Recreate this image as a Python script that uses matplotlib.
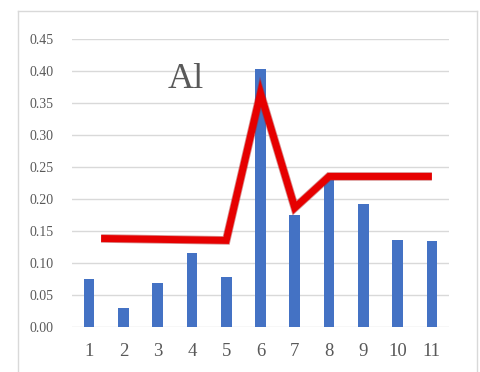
import matplotlib
matplotlib.use("Agg")
import matplotlib.pyplot as plt
import matplotlib.patheffects as pe
from matplotlib.lines import Line2D

# sample positions and measured values
categories = [1, 2, 3, 4, 5, 6, 7, 8, 9, 10, 11]
bar_values = [0.074, 0.029, 0.069, 0.116, 0.077, 0.403, 0.174, 0.230, 0.192, 0.136, 0.134]

# trend line (starts slightly after the first sample)
line_x = [1.35, 5, 6, 7, 8, 11]
line_values = [0.138, 0.135, 0.365, 0.186, 0.235, 0.235]

y_ticks = [0.00, 0.05, 0.10, 0.15, 0.20, 0.25, 0.30, 0.35, 0.40, 0.45]

TEXT = "#595959"
GRID = "#d9d9d9"
SERIF = "Liberation Serif"

fig = plt.figure(figsize=(4.8, 3.72), dpi=100)
fig.patch.set_facecolor("white")
ax = fig.add_axes([72 / 480, 1 - 326.7 / 372, 377 / 480, 287.7 / 372])

ax.bar(categories, bar_values, width=0.31, color="#4472C4", zorder=2)
ax.plot(line_x, line_values, color="#e60000", lw=5.0, solid_joinstyle="miter",
        solid_capstyle="butt", zorder=3,
        path_effects=[pe.Stroke(linewidth=6.2, foreground="#b02020", alpha=0.5),
                      pe.Normal()])

ax.set_xlim(0.5, 11.5)
ax.set_ylim(0, 0.45)
ax.set_yticks(y_ticks)
ax.set_yticklabels([f"{v:.2f}" for v in y_ticks], fontsize=10, color=TEXT, family=SERIF)
ax.set_xticks(categories)
ax.set_xticklabels([str(c) for c in categories], fontsize=13.5, color=TEXT, family=SERIF)
ax.tick_params(length=0)
ax.tick_params(axis="y", pad=13)
ax.tick_params(axis="x", pad=12)
ax.grid(axis="y", color=GRID, lw=1)
ax.set_axisbelow(True)
for s in ax.spines.values():
    s.set_visible(False)

ax.text(3.81, 0.386, "Al", fontsize=26, color=TEXT, family=SERIF, ha="center", va="center")

# chart area frame
for xs, ys in [([18, 18], [11, 380]), ([18, 477], [11, 11]), ([477, 477], [11, 380])]:
    fig.add_artist(Line2D([x / 480 for x in xs], [1 - y / 372 for y in ys],
                          color=GRID, lw=1))

fig.savefig("out.png", dpi=100, facecolor="white")
